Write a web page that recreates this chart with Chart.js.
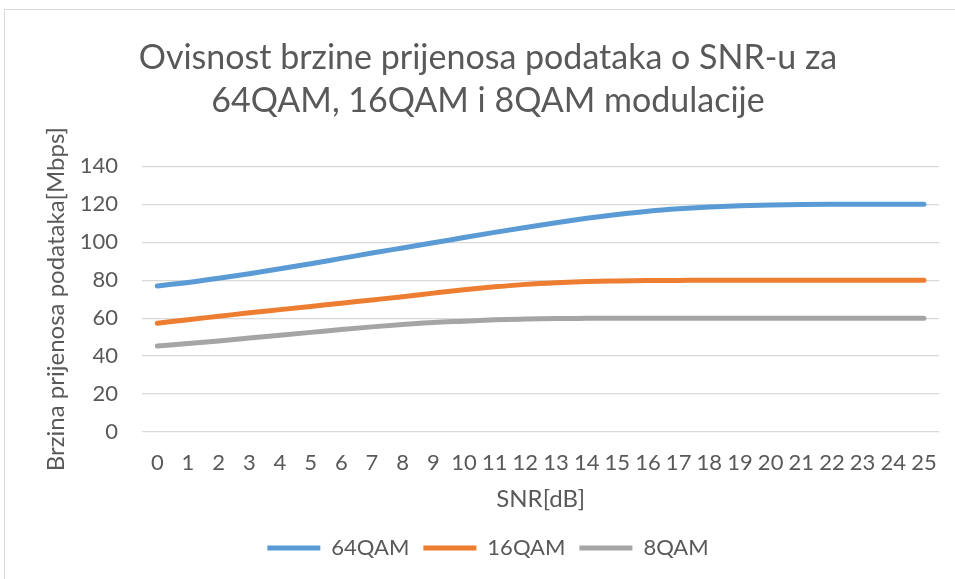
<!DOCTYPE html>
<html>
<head>
<meta charset="utf-8">
<script src="https://cdn.jsdelivr.net/npm/chart.js@4"></script>
<style>
  html, body { margin: 0; padding: 0; background: #fff; }
  #wrap { position: absolute; left: 0; top: 0; width: 955px; height: 579px; }
  #frame { position: absolute; left: 4px; top: 9px; width: 1000px; height: 600px; border: 1px solid #d9d9d9; }
</style>
</head>
<body>
<div id="frame"></div>
<div id="wrap"><canvas id="snrChart" width="955" height="579"></canvas></div>
<script>
// SNR in dB, 0..25
const snr = ['0','1','2','3','4','5','6','7','8','9','10','11','12','13','14','15','16','17','18','19','20','21','22','23','24','25'];

const qam64 = [77, 78.8, 81, 83.4, 86, 88.7, 91.5, 94.3, 97, 99.7, 102.5, 105.2, 107.8, 110.3, 112.6, 114.6,
               116.3, 117.6, 118.6, 119.3, 119.7, 119.9, 120, 120, 120, 120];
const qam16 = [57.3, 59.2, 61, 62.8, 64.5, 66.2, 67.9, 69.6, 71.3, 73.2, 75, 76.5, 77.8, 78.7, 79.3, 79.6,
               79.8, 79.9, 80, 80, 80, 80, 80, 80, 80, 80];
const qam8 = [45.3, 46.6, 48, 49.5, 51, 52.5, 54, 55.4, 56.6, 57.7, 58.4, 59.1, 59.5, 59.8, 59.9, 60,
              60, 60, 60, 60, 60, 60, 60, 60, 60, 60];

const titleLines = ['Ovisnost brzine prijenosa podataka o SNR-u za', '64QAM, 16QAM i 8QAM modulacije'];

const FONT = 'Lato, "Open Sans", sans-serif';
const TXT = '#595959';

function line(label, data, color) {
  return {
    label: label,
    data: data,
    borderColor: color,
    backgroundColor: color,
    borderWidth: 5,
    borderCapStyle: 'round',
    pointRadius: 0,
    pointHoverRadius: 0,
    cubicInterpolationMode: 'monotone',
    fill: false
  };
}

const snr_config = {
  type: 'line',
  data: {
    labels: snr,
    datasets: [
      line('64QAM', qam64, '#5b9bd5'),
      line('16QAM', qam16, '#ed7d31'),
      line('8QAM', qam8, '#a5a5a5')
    ]
  },
  options: {
    responsive: false,
    animation: false,
    // left padding pushes title/legend centre to match the original frame
    layout: { padding: { left: 36, right: 15, top: 0, bottom: 10 } },
    plugins: {
      title: {
        display: true,
        text: titleLines,
        color: TXT,
        font: { family: FONT, size: 34, weight: 'normal', lineHeight: 1.27 },
        padding: { top: 36, bottom: 44 }
      },
      legend: {
        position: 'bottom',
        labels: {
          color: TXT,
          font: { family: FONT, size: 22 },
          usePointStyle: true,
          pointStyleWidth: 53,
          pointStyle: 'line',
          padding: 14
        }
      },
      tooltip: { enabled: false }
    },
    scales: {
      x: {
        offset: true,
        grid: { display: false, drawTicks: false },
        border: { display: false },
        ticks: { color: TXT, font: { family: FONT, size: 22 }, padding: 18, maxRotation: 0, autoSkip: false },
        title: {
          display: true,
          text: 'SNR[dB]',
          color: TXT,
          font: { family: FONT, size: 24 },
          padding: { top: 0, bottom: 9 }
        },
        afterFit: function (scale) { scale.height = 91; }
      },
      y: {
        min: 0,
        max: 140,
        grid: { color: '#d9d9d9', lineWidth: 1.3, drawTicks: false },
        border: { display: false },
        ticks: { stepSize: 20, color: TXT, font: { family: FONT, size: 22 }, padding: 24 },
        title: {
          display: true,
          text: 'Brzina prijenosa podataka[Mbps]',
          color: TXT,
          font: { family: FONT, size: 24 },
          padding: { top: 6, bottom: 0 }
        },
        afterFit: function (scale) { scale.width = 106; }
      }
    }
  }
};

const snr_chart = new Chart(document.getElementById('snrChart'), snr_config);
</script>
</body>
</html>
